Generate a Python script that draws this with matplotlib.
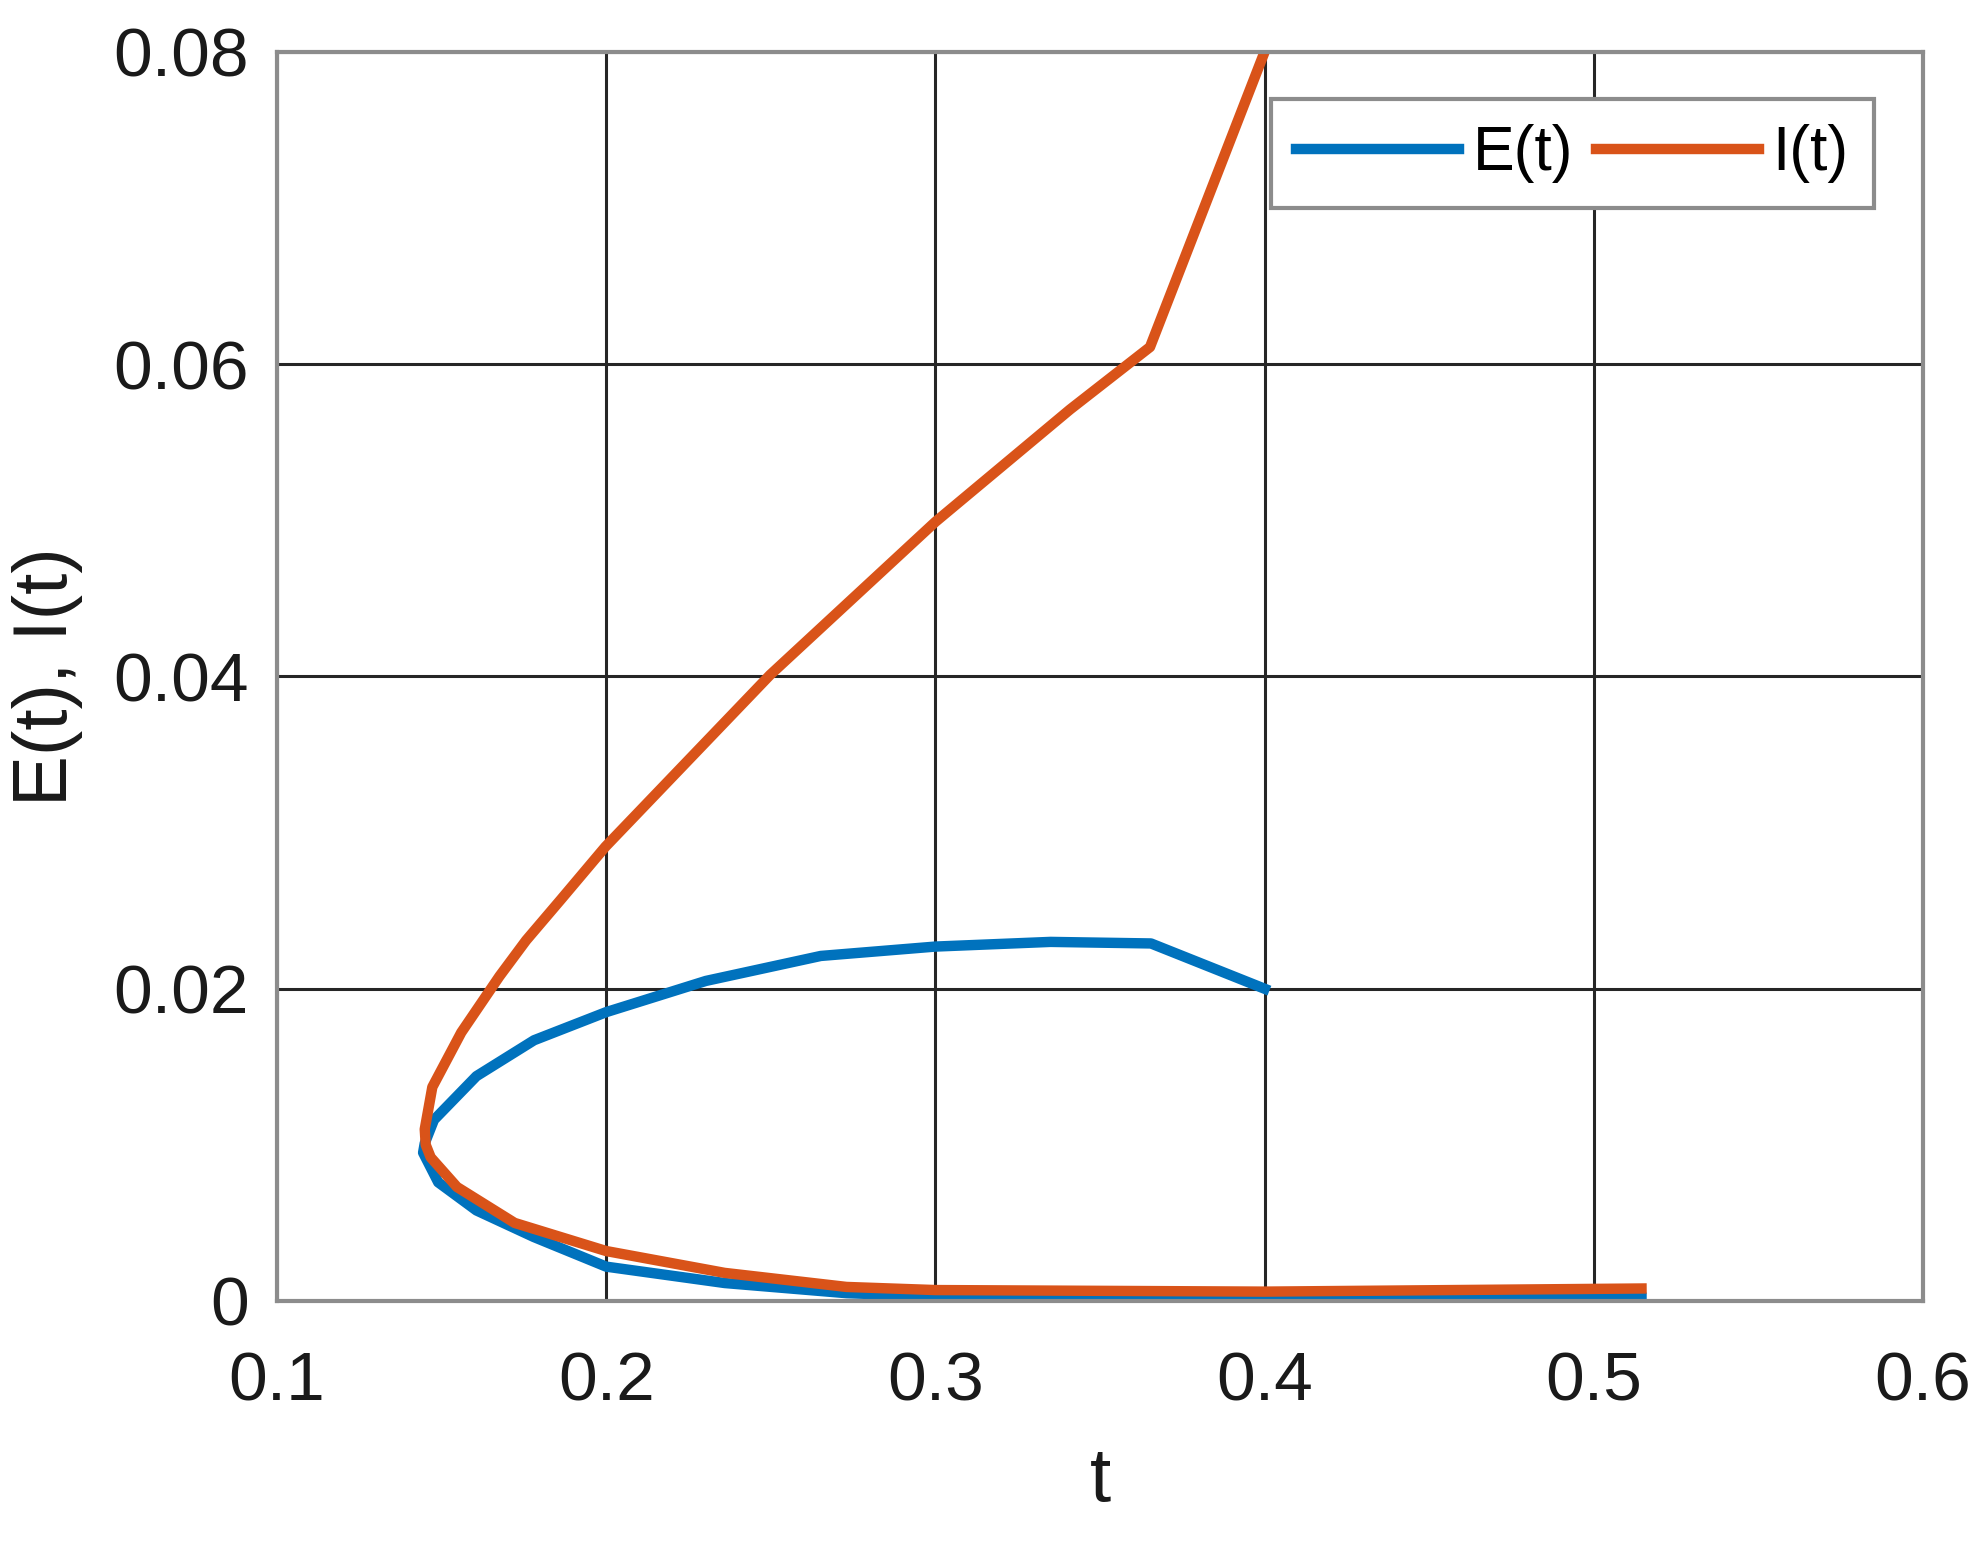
import matplotlib.pyplot as plt

# curve points (x, value), upper branch -> turning point -> lower branch
e_x = [0.400, 0.3655, 0.335, 0.300, 0.2652, 0.2303, 0.200, 0.1781, 0.1606, 0.1477,
       0.1449, 0.1444, 0.149, 0.1606, 0.178, 0.200, 0.236, 0.273, 0.300, 0.350,
       0.400, 0.450, 0.5145]
e_y = [0.0200, 0.0229, 0.0230, 0.0227, 0.0221, 0.0205, 0.0185, 0.0167, 0.0144, 0.0116,
       0.0101, 0.0095, 0.0076, 0.0058, 0.0041, 0.0022, 0.00115, 0.0005, 0.0003, 0.0002,
       0.0002, 0.0002, 0.0002]

i_x = [0.400, 0.3652, 0.3409, 0.300, 0.2498, 0.1998, 0.1862, 0.1757, 0.1676, 0.156,
       0.1472, 0.1449, 0.1452, 0.1467, 0.1547, 0.1722, 0.200, 0.236, 0.273, 0.300,
       0.400, 0.5145]
i_y = [0.0800, 0.0611, 0.0571, 0.0499, 0.0401, 0.0291, 0.0257, 0.0231, 0.0208, 0.0172,
       0.0137, 0.0110, 0.0100, 0.0092, 0.0073, 0.0050, 0.0032, 0.0018, 0.0009, 0.0007,
       0.0006, 0.0008]

x_ticks = [0.1, 0.2, 0.3, 0.4, 0.5, 0.6]
y_ticks = [0, 0.02, 0.04, 0.06, 0.08]
y_tick_labels = ["0", "0.02", "0.04", "0.06", "0.08"]

plt.rcParams['font.family'] = ['Liberation Sans', 'DejaVu Sans']

fig = plt.figure(figsize=(19.88, 15.42), dpi=100)
ax = fig.add_axes([0.1393, 0.1563, 0.828, 0.810])

ax.plot(e_x, e_y, color='#0072BD', linewidth=7.5, label='E(t)')
ax.plot(i_x, i_y, color='#D95319', linewidth=7.5, label='I(t)')

ax.set_xlim(0.1, 0.6)
ax.set_ylim(0, 0.08)
ax.set_xticks(x_ticks)
ax.set_xticklabels([f"{v:g}" for v in x_ticks])
ax.set_yticks(y_ticks)
ax.set_yticklabels(y_tick_labels)

ax.grid(True, color='#262626', linewidth=2.2)
ax.set_axisbelow(True)
for s in ax.spines.values():
    s.set_color('#8c8c8c')
    s.set_linewidth(3)
ax.tick_params(axis='both', length=0, labelsize=50, colors='#1a1a1a')
ax.tick_params(axis='x', pad=36)
ax.tick_params(axis='y', pad=20)

ax.set_xlabel("t", fontsize=55, labelpad=22, color='#1a1a1a')
ax.set_ylabel("E(t), I(t)", fontsize=55, labelpad=22, color='#1a1a1a')

leg = ax.legend(loc='upper right', ncol=2, fontsize=45, frameon=True, fancybox=False,
                edgecolor='#8c8c8c', framealpha=1, handlelength=2.6,
                columnspacing=0.37, handletextpad=0.22, borderpad=0.4,
                borderaxespad=0, bbox_to_anchor=(0.970, 0.962))
leg.get_frame().set_linewidth(3)

fig.savefig("out.png", dpi=100, facecolor='white')
